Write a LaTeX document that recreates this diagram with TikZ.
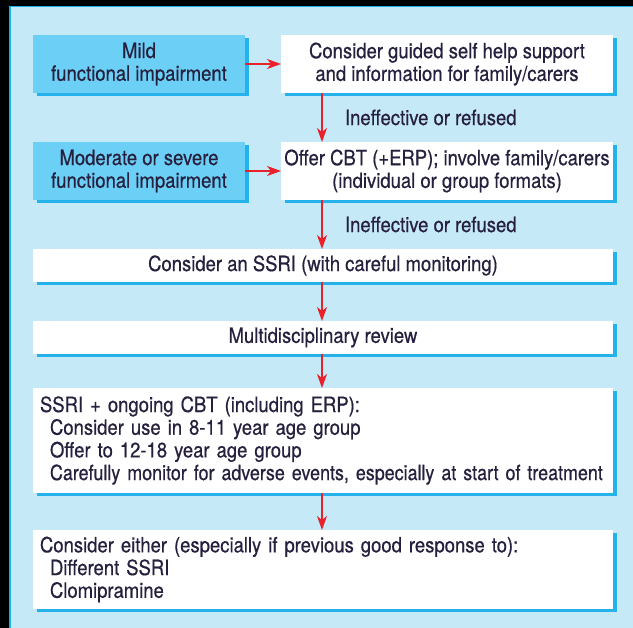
\documentclass[tikz,border=0pt]{standalone}
\usepackage{fontspec}
\setmainfont{TeX Gyre Heros}[FakeStretch=0.88,FakeBold=0.5]
\newfontfamily\narrowfont{TeX Gyre Heros}[FakeStretch=0.852,FakeBold=0.5]
\usetikzlibrary{arrows.meta,shadows}
\definecolor{panel}{HTML}{C6E9F8}
\definecolor{edgeblue}{HTML}{1AB0E8}
\definecolor{leftfill}{HTML}{6CCFF5}
\definecolor{shadowblue}{HTML}{25B2EA}
\definecolor{arrowred}{HTML}{E8212B}
\definecolor{txt}{HTML}{261F3E}
\begin{document}
\begin{tikzpicture}[x=1pt,y=-1pt,
  every node/.style={text=txt, font=\fontsize{21}{22.7}\selectfont, inner sep=0pt, outer sep=0pt},
  box/.style={fill=white, anchor=north west,
    drop shadow={shadow xshift=3.5pt, shadow yshift=-3.5pt, fill=shadowblue, opacity=1}},
  leftbox/.style={box, fill=leftfill},
  arr/.style={draw=arrowred, line width=1.4pt, -{Stealth[length=14pt,width=10pt,inset=4pt]}},
  lbl/.style={anchor=west, xshift=23pt}]
\useasboundingbox (0,0) rectangle (633,628);
\fill[black] (0,0) rectangle (633,628);
\fill[panel] (9,6) rectangle (633,628);
\draw[edgeblue, line width=1.5pt] (10,628) -- (10,6.75) -- (633,6.75);

\node[leftbox, minimum width=212pt, minimum height=58pt, align=center] (mild) at (33,35) {Mild\\functional impairment};
\node[box, minimum width=332pt, minimum height=58pt, align=center] (guided) at (281,35) {Consider guided self help support\\and information for family/carers};
\node[leftbox, minimum width=212pt, minimum height=58pt, align=center] (moderate) at (33,142) {Moderate or severe\\functional impairment};
\node[box, minimum width=332pt, minimum height=58pt, align=center] (offer) at (281,142) {Offer CBT (+ERP); involve family/carers\\(individual or group formats)};
\node[box, minimum width=580pt, minimum height=33pt] (ssri) at (33,249) {Consider an SSRI (with careful monitoring)};
\node[box, minimum width=580pt, minimum height=33pt] (multi) at (33,321) {Multidisciplinary review};
\node[box, minimum width=580pt, minimum height=105pt, text width=566pt, inner xsep=7pt, align=left] (cbt) at (33,388)
  {SSRI + ongoing CBT (including ERP):\\
   \hspace*{10pt}Consider use in 8-11 year age group\\
   \hspace*{10pt}Offer to 12-18 year age group\\
   \hspace*{10pt}\mbox{\narrowfont Carefully monitor for adverse events, especially at start of treatment}};
\node[box, minimum width=580pt, minimum height=79pt, text width=566pt, inner xsep=7pt, align=left] (either) at (33,530)
  {Consider either (especially if previous good response to):\\
   \hspace*{10pt}Different SSRI\\
   \hspace*{10pt}Clomipramine};

\coordinate (ax) at (322,0);
\draw[arr] (mild.east) -- (guided.west);
\draw[arr] (moderate.east) -- (offer.west);
\draw[arr] (guided.south -| ax) -- node[lbl] {Ineffective or refused} (offer.north -| ax);
\draw[arr] (offer.south -| ax) -- node[lbl] {Ineffective or refused} (ssri.north -| ax);
\draw[arr] (ssri.south -| ax) -- (multi.north -| ax);
\draw[arr] (multi.south -| ax) -- (cbt.north -| ax);
\draw[arr] (cbt.south -| ax) -- (either.north -| ax);
\end{tikzpicture}
\end{document}
